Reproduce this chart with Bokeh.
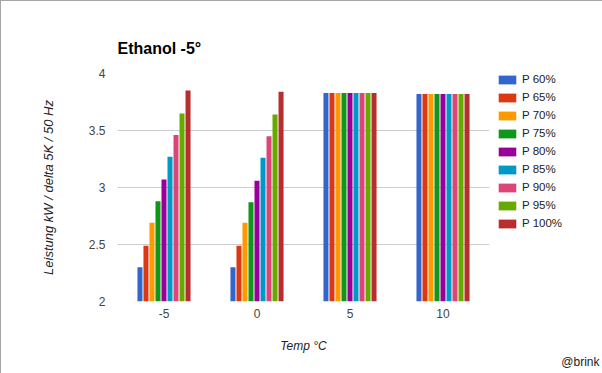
from bokeh.plotting import figure
from bokeh.models import ColumnDataSource, Range1d, FixedTicker, Legend, LegendItem, Title
from bokeh.transform import dodge
from bokeh.embed import file_html
from bokeh.resources import INLINE

temps = ["-5", "0", "5", "10"]
series_names = ["P 60%", "P 65%", "P 70%", "P 75%", "P 80%", "P 85%", "P 90%", "P 95%", "P 100%"]
p60 = [2.30, 2.30, 3.83, 3.82]
p65 = [2.49, 2.49, 3.83, 3.82]
p70 = [2.69, 2.69, 3.83, 3.82]
p75 = [2.88, 2.87, 3.83, 3.82]
p80 = [3.07, 3.06, 3.83, 3.82]
p85 = [3.27, 3.26, 3.83, 3.82]
p90 = [3.46, 3.45, 3.83, 3.82]
p95 = [3.65, 3.64, 3.83, 3.82]
p100 = [3.85, 3.84, 3.83, 3.82]
y_ticks = [2, 2.5, 3, 3.5, 4]
y_tick_labels = ["2", "2.5", "3", "3.5", "4"]
colors = ["#3366cc", "#dc3912", "#ff9900", "#109618", "#990099",
          "#0099c6", "#dd4477", "#66aa00", "#b82e2e"]

values = [p60, p65, p70, p75, p80, p85, p90, p95, p100]
data = {"temp": temps}
keys = []
for i, v in enumerate(values):
    k = "s%d" % i
    keys.append(k)
    data[k] = v
source = ColumnDataSource(data)

FONT = "Liberation Sans"

p = figure(frame_width=372, frame_height=228, x_range=temps, y_range=Range1d(2, 4),
           output_backend="svg", toolbar_location=None,
           min_border_left=116, min_border_right=114,
           min_border_top=72, min_border_bottom=73)
p.outline_line_color = None
p.background_fill_color = "white"
p.border_fill_color = "white"
p.styles = {"border": "1px solid #a6a6a6", "box-sizing": "border-box"}

# title
p.title.text = "Ethanol -5°"
p.title.align = "left"
p.title.text_font = FONT
p.title.text_font_size = "16px"
p.title.text_font_style = "bold"
p.title.text_color = "#000000"
p.title.standoff = 33

step = 0.0646
width = 0.054
items = []
for i, k in enumerate(keys):
    r = p.vbar(x=dodge("temp", (i - 4) * step, range=p.x_range), top=k, bottom=2,
               width=width, source=source, color=colors[i], line_color=None)
    items.append(LegendItem(label=series_names[i], renderers=[r]))

legend = Legend(items=items, location="top_left")
legend.margin = 0
legend.padding = 0
legend.spacing = 6
legend.glyph_width = 22
legend.glyph_height = 11
legend.label_height = 11
legend.label_standoff = 4
legend.label_text_font = FONT
legend.label_text_font_size = "11.5px"
legend.label_text_color = "#222222"
legend.background_fill_alpha = 0
legend.border_line_alpha = 0
legend.title = " "
legend.title_location = "left"
legend.title_text_font_size = "1px"
legend.title_standoff = 6
p.add_layout(legend, "right")

# axes
p.yaxis.ticker = FixedTicker(ticks=y_ticks)
p.yaxis.major_label_overrides = {t: l for t, l in zip(y_ticks, y_tick_labels)}
for ax in (p.xaxis[0], p.yaxis[0]):
    ax.axis_line_color = None
    ax.major_tick_line_color = None
    ax.minor_tick_line_color = None
    ax.major_tick_out = 0
    ax.major_tick_in = 0
    ax.minor_tick_out = 0
    ax.minor_tick_in = 0
    ax.major_label_text_font = FONT
    ax.major_label_text_font_size = "12px"
    ax.major_label_text_color = "#444444"
    ax.axis_label_text_font = FONT
    ax.axis_label_text_font_style = "italic"
    ax.axis_label_text_color = "#222222"
p.yaxis.major_label_standoff = 12
p.yaxis.axis_label = "Leistung kW / delta 5K / 50 Hz"
p.yaxis.axis_label_text_font_size = "13px"
p.yaxis.axis_label_standoff = 30
p.xaxis.major_label_standoff = 7
p.xaxis.axis_label = "Temp °C"
p.xaxis.axis_label_text_font_size = "12px"
p.xaxis.axis_label_standoff = 18

p.xgrid.grid_line_color = None
p.ygrid.grid_line_color = "#cccccc"

credit = Title(text="@brink", align="right", offset=-110, standoff=-5,
               text_font=FONT, text_font_size="12px", text_font_style="normal",
               text_color="#222222", text_line_height=1.0)
p.add_layout(credit, "below")

open("out.html", "w").write(file_html(p, INLINE))
